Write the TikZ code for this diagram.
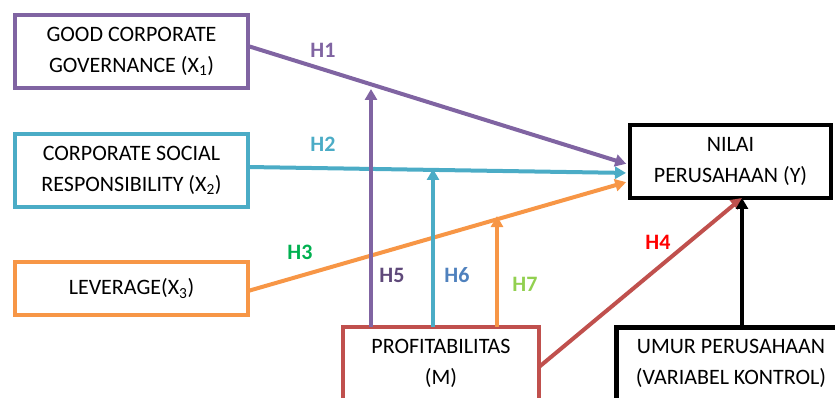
\documentclass[tikz,border=0pt]{standalone}
\usepackage{fontspec}
\setmainfont{Carlito}
\usetikzlibrary{arrows.meta,calc}
\definecolor{cpurple}{HTML}{8064A2}
\definecolor{cteal}{HTML}{4BACC6}
\definecolor{corange}{HTML}{F79646}
\definecolor{cred}{HTML}{C0504D}
\definecolor{lgreen}{HTML}{00B050}
\definecolor{lred}{HTML}{FF0000}
\definecolor{ldpurple}{HTML}{5F497A}
\definecolor{lblue}{HTML}{4F81BD}
\definecolor{llgreen}{HTML}{92D050}
\begin{document}
\begin{tikzpicture}[x=1pt,y=-1pt,
  box/.style={draw,line width=4pt,inner sep=0pt,outer sep=0pt,align=center,
    font=\fontsize{22}{31.5}\selectfont},
  arr/.style={line width=4pt,-{Triangle[length=11pt,width=12pt]}},
  hlab/.style={font=\fontsize{22}{26}\selectfont\bfseries,inner sep=0pt}]
\useasboundingbox (0,0) rectangle (835,398);
\clip (0,0) rectangle (835,398);
% boxes
\node[box,draw=cpurple,minimum width=233pt,minimum height=73pt] (gcg) at (131.5,51.5)
  {GOOD CORPORATE\\GOVERNANCE (X\textsubscript{1})};
\node[box,draw=cteal,minimum width=233pt,minimum height=73pt] (csr) at (131.5,170.5)
  {CORPORATE SOCIAL\\RESPONSIBILITY (X\textsubscript{2})};
\node[box,draw=corange,minimum width=233pt,minimum height=53pt] (lev) at (131.5,288.5)
  {LEVERAGE(X\textsubscript{3})};
\node[box,draw=black,minimum width=201pt,minimum height=73pt] (nilai) at (730.5,161.5)
  {NILAI\\PERUSAHAAN (Y)};
\node[box,draw=cred,minimum width=196pt,minimum height=73pt] (prof) at (441,363.5)
  {PROFITABILITAS\\(M)};
\node[box,draw=black,line width=5pt,minimum width=230pt,minimum height=73pt] (umur) at (731,363.5)
  {UMUR PERUSAHAAN\\(VARIABEL KONTROL)};
% coordinates
\coordinate (ytip) at ([xshift=11.5pt]nilai.south);
\coordinate (t5) at (371,89);
\coordinate (t6) at (433,169);
\coordinate (t7) at (497,216);
% main arrows
\draw[arr,cpurple,shorten >=4pt] ([yshift=5.5pt]gcg.east) -- ([yshift=-3.5pt]nilai.west);
\draw[arr,cteal,shorten >=4pt] ([yshift=3.5pt]csr.east) -- ([yshift=-11.5pt]nilai.west);
\draw[arr,corange,shorten >=4pt] ([yshift=-2.5pt]lev.east) -- ([yshift=-19.5pt]nilai.west);
\draw[arr,cred] ([yshift=-3.5pt]prof.east) -- (ytip);
\draw[arr,black,line width=4.5pt] (ytip |- umur.north) -- (ytip);
% moderation arrows
\draw[arr,cpurple] (t5 |- prof.north) -- (t5);
\draw[arr,cteal] (t6 |- prof.north) -- (t6);
\draw[arr,corange] (t7 |- prof.north) -- (t7);
% labels
\node[hlab,text=cpurple] (h1) at (323,50) {H1};
\node[hlab,text=cteal] (h2) at (323,144) {H2};
\node[hlab,text=lgreen] (h3) at (300,252) {H3};
\node[hlab,text=lred] (h4) at (658,242) {H4};
\node[hlab,text=ldpurple] (h5) at (392,275) {H5};
\node[hlab,text=lblue] (h6) at (457,275) {H6};
\node[hlab,text=llgreen] (h7) at (525,284) {H7};
\end{tikzpicture}
\end{document}
